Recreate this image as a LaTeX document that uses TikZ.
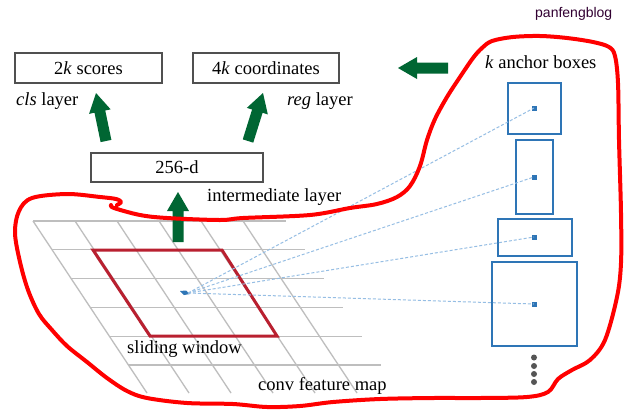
\documentclass[tikz,border=0pt]{standalone}
\usepackage{fontspec}
\setmainfont{Liberation Serif}
\newfontfamily\wmfont{Liberation Sans}
\usetikzlibrary{calc}
\definecolor{gArrow}{RGB}{0,102,51}
\definecolor{redline}{RGB}{255,0,0}
\definecolor{winred}{RGB}{185,32,48}
\definecolor{gridgray}{RGB}{190,190,190}
\definecolor{anchorblue}{RGB}{46,117,182}
\definecolor{dashblue}{RGB}{150,190,228}
\definecolor{boxgray}{RGB}{80,80,80}
\definecolor{wmcolor}{RGB}{50,0,50}
\definecolor{dotgray}{RGB}{85,85,85}

\newcommand{\garrow}[2]{%
  \path let \p1=($(#2)-(#1)$) in \pgfextra{%
    \pgfmathsetmacro\garang{atan2(\y1,\x1)}%
    \pgfmathsetmacro\garlen{veclen(\x1,\y1)}%
    \xdef\garangG{\garang}\xdef\garlenG{\garlen}};
  \begin{scope}[shift={(#1)}, rotate=\garangG, x=1pt, y=1pt]
    \fill[gArrow] (0,-5.5) -- (\garlenG-19,-5.5) -- (\garlenG-19,-11) -- (\garlenG,0)
      -- (\garlenG-19,11) -- (\garlenG-19,5.5) -- (0,5.5) -- cycle;
  \end{scope}}

\begin{document}
\begin{tikzpicture}[x=1pt,y=-1pt,
  lbl/.style={font=\fontsize{18.5}{20}\selectfont, inner sep=0pt},
  layerbox/.style={draw=boxgray, line width=1.1pt, inner sep=0pt,
    font=\fontsize{18.5}{20}\selectfont},
  gridline/.style={draw=gridgray, line width=1.3pt},
  anchorbox/.style={draw=anchorblue, line width=1.3pt, inner sep=0pt},
  anchordot/.style={fill=anchorblue, minimum size=5pt, inner sep=0pt},
  dashline/.style={draw=dashblue, line width=1pt, dash pattern=on 3pt off 2pt},
  ellipsisdot/.style={circle, fill=dotgray, minimum size=6pt, inner sep=0pt}]

\useasboundingbox (0,0) rectangle (629,416);
\fill[white] (0,0) rectangle (629,416);

% grid (conv feature map)
\foreach \i in {0,...,5} {
  \pgfmathsetmacro\yy{221+28.8*\i}
  \draw[gridline] ({33+0.663*(\yy-221)},\yy) -- ({286+0.663*(\yy-221)},\yy);
}
\foreach \j in {0,...,5} {
  \draw[gridline] ({33+42*\j},221) -- ({147+42*\j},393);
}

% sliding window
\draw[winred, line width=3pt, line join=miter]
  (93,250) -- (222,250) -- (277,336) -- (150,336) -- cycle;

% marker
\coordinate (m) at (188,293);
\fill[anchorblue] (180,291) -- (186,290.5) -- (190,294) -- (184,295) -- cycle;

% anchor boxes
\node[anchorbox, minimum width=53pt, minimum height=51pt] (a1) at (534.5,108.5) {};
\node[anchorbox, minimum width=37pt, minimum height=74pt] (a2) at (534.5,177) {};
\node[anchorbox, minimum width=74pt, minimum height=37pt] (a3) at (535,237.5) {};
\node[anchorbox, minimum width=85pt, minimum height=84pt] (a4) at (534.5,304) {};
\node[anchordot] (d1) at (534,108) {};
\node[anchordot] (d2) at (534,177) {};
\node[anchordot] (d3) at (534,237) {};
\node[anchordot] (d4) at (534,304) {};
\foreach \k in {1,...,4} { \draw[dashline] (m) -- (d\k.center); }

\node[ellipsisdot] (e1) at (534,357.5) {};
\node[ellipsisdot] (e2) at (534,366) {};
\node[ellipsisdot] (e3) at (534,374) {};
\node[ellipsisdot] (e4) at (534,382) {};

% top boxes
\node[layerbox, minimum width=147pt, minimum height=30pt] (scores) at (88.5,68) {2\textit{k} scores};
\node[layerbox, minimum width=146pt, minimum height=30pt] (coords) at (266,68) {4\textit{k} coordinates};
\node[layerbox, minimum width=172pt, minimum height=29pt] (mid) at (177,167.5) {256-d};

% labels
\node[lbl, anchor=base west] (clsl) at (16,105) {\textit{cls} layer};
\node[lbl, anchor=base west] (regl) at (287,105) {\textit{reg} layer};
\node[lbl, anchor=base west] (interl) at (207,201) {intermediate layer};
\node[lbl, anchor=base west] (slidel) at (127,353) {sliding window};
\node[lbl, anchor=base west] (convl) at (258,390) {conv feature map};
\node[lbl, anchor=base west] (anchl) at (485,68) {\textit{k} anchor boxes};
\node[inner sep=0pt, anchor=base west, text=wmcolor, font=\wmfont\fontsize{14}{16}\selectfont] (wm) at (535,17) {panfengblog};

% green arrows
\coordinate (la0) at (106,141);
\coordinate (la1) at (96,93);
\coordinate (ra0) at (248,141);
\coordinate (ra1) at (263,93);
\coordinate (ma0) at (178,242);
\coordinate (ma1) at (178,192);
\coordinate (ka0) at (448,68);
\coordinate (ka1) at (398,68);
\garrow{la0}{la1}
\garrow{ra0}{ra1}
\garrow{ma0}{ma1}
\garrow{ka0}{ka1}

% red hand-drawn contour
\draw[redline, line width=4pt, line cap=round, line join=round]
  plot[smooth, tension=0.55] coordinates {
  (111,205) (114,208) (140,215) (167,218) (220,220) (243,218) (310,215)
  (350,208) (377,204) (397,197) (410,186) (420,166) (427,140) (435,119)
  (447,97) (460,77) (473,58) (482,48) (492,41) (513,37) (540,36) (567,38)
  (593,42) (609,47) (615,56) (618,83) (619,140) (621,213) (621,263)
  (617,297) (605,340) (590,360) (572,370) (558,379) (548,392) (527,397)
  (480,398) (433,398) (380,399) (333,402) (300,406) (267,407) (233,404)
  (187,403) (147,398) (127,391) (107,378) (87,362) (67,346) (52,330)
  (39,314) (28,290) (20,262) (15,233) (19,211) (32,198) (67,194) (100,197)
  (116,199) (121,202) (117,205)};
\end{tikzpicture}
\end{document}
